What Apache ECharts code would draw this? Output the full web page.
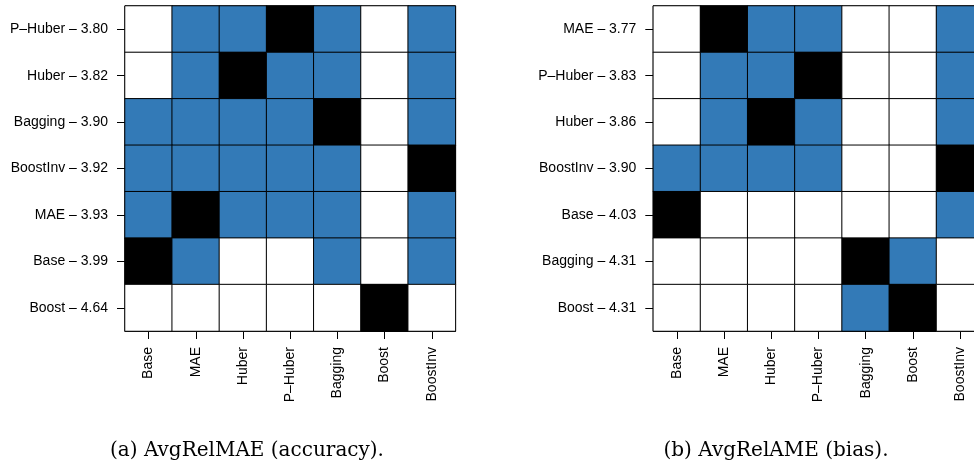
<!DOCTYPE html>
<html><head><meta charset="utf-8">
<script src="https://cdn.jsdelivr.net/npm/echarts@6/dist/echarts.min.js"></script>
<style>html,body{margin:0;padding:0;background:#fff;overflow:hidden}#c{width:1000px;height:466px}</style>
</head><body><div id="c"></div>
<script>
// Column categories (same for both panels)
var columns = ['Base', 'MAE', 'Huber', 'P–Huber', 'Bagging', 'Boost', 'BoostInv'];

// Panel (a) AvgRelMAE: rows top to bottom, with their scores
var rowsA = ['P–Huber', 'Huber', 'Bagging', 'BoostInv', 'MAE', 'Base', 'Boost'];
var scoresA = ['3.80', '3.82', '3.90', '3.92', '3.93', '3.99', '4.64'];
// 0 = white (not significant), 1 = blue (significant), 2 = black (self)
var matrixA = [
  [0, 1, 1, 2, 1, 0, 1],
  [0, 1, 2, 1, 1, 0, 1],
  [1, 1, 1, 1, 2, 0, 1],
  [1, 1, 1, 1, 1, 0, 2],
  [1, 2, 1, 1, 1, 0, 1],
  [2, 1, 0, 0, 1, 0, 1],
  [0, 0, 0, 0, 0, 2, 0]
];

// Panel (b) AvgRelAME
var rowsB = ['MAE', 'P–Huber', 'Huber', 'BoostInv', 'Base', 'Bagging', 'Boost'];
var scoresB = ['3.77', '3.83', '3.86', '3.90', '4.03', '4.31', '4.31'];
var matrixB = [
  [0, 2, 1, 1, 0, 0, 1],
  [0, 1, 1, 2, 0, 0, 1],
  [0, 1, 2, 1, 0, 0, 1],
  [1, 1, 1, 1, 0, 0, 2],
  [2, 0, 0, 0, 0, 0, 1],
  [0, 0, 0, 0, 2, 1, 0],
  [0, 0, 0, 0, 1, 2, 0]
];

var captions = ['(a) AvgRelMAE (accuracy).', '(b) AvgRelAME (bias).'];

function toData(m) {
  var d = [];
  for (var r = 0; r < m.length; r++)
    for (var c = 0; c < m[r].length; c++) d.push([c, r, m[r][c]]);
  return d;
}
function rowLabels(rows, scores) {
  return rows.map(function (r, i) { return r + ' – ' + scores[i]; });
}

var font = 'Liberation Sans, Arial, Helvetica, sans-serif';
var gridTop = 6, gridH = 325, cellW = 47.2;
var grids = [
  { left: 125, top: gridTop, width: cellW * 7, height: gridH },
  { left: 653.3, top: gridTop, width: cellW * 7, height: gridH }
];

function xAxis(i) {
  return {
    type: 'category', gridIndex: i, data: columns,
    axisLine: { show: true, lineStyle: { color: '#000', width: 1 } },
    axisTick: { show: true, alignWithLabel: true, length: 8, lineStyle: { color: '#000' } },
    axisLabel: { rotate: 90, margin: 16, color: '#000', fontSize: 14, fontFamily: font, interval: 0 },
    splitLine: { show: false }
  };
}
function yAxis(i, labels) {
  return {
    type: 'category', gridIndex: i, data: labels, inverse: true,
    axisLine: { show: true, lineStyle: { color: '#000', width: 1 } },
    axisTick: { show: true, alignWithLabel: true, length: 8, lineStyle: { color: '#000' } },
    axisLabel: { margin: 17, color: '#000', fontSize: 14, fontFamily: font, interval: 0 },
    splitLine: { show: false }
  };
}
function series(i, m) {
  return {
    type: 'heatmap', xAxisIndex: i, yAxisIndex: i, data: toData(m),
    itemStyle: { borderColor: '#000', borderWidth: 1 },
    emphasis: { disabled: true },
    label: { show: false }
  };
}

var capStyle = { fontFamily: 'DejaVu Serif, serif', fontWeight: 'normal', fontSize: 20, color: '#000' };
var chart = echarts.init(document.getElementById('c'), null, { renderer: 'canvas' });
chart.setOption({
  animation: false,
  backgroundColor: '#fff',
  grid: grids.map(function (g) { return Object.assign({ show: true, borderColor: '#000', borderWidth: 1, backgroundColor: 'transparent' }, g); }),
  xAxis: [xAxis(0), xAxis(1)],
  yAxis: [yAxis(0, rowLabels(rowsA, scoresA)), yAxis(1, rowLabels(rowsB, scoresB))],
  visualMap: {
    type: 'piecewise', show: false, seriesIndex: [0, 1], dimension: 2,
    pieces: [
      { value: 0, color: '#ffffff' },
      { value: 1, color: '#337ab7' },
      { value: 2, color: '#000000' }
    ]
  },
  title: [
    { text: captions[0], left: 242, top: 436, textAlign: 'center', textStyle: capStyle },
    { text: captions[1], left: 771, top: 436, textAlign: 'center', textStyle: capStyle }
  ],
  series: [series(0, matrixA), series(1, matrixB)]
});
</script>
</body></html>
